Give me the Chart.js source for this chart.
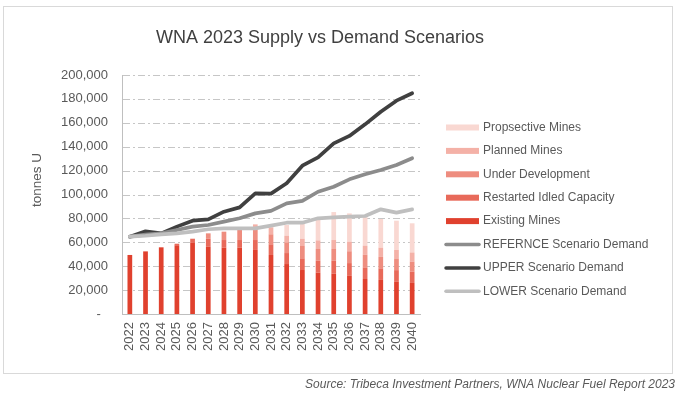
<!DOCTYPE html>
<html><head><meta charset="utf-8">
<script src="https://cdn.jsdelivr.net/npm/chart.js@4"></script>
<style>html,body{margin:0;padding:0;background:#fff}</style>
</head><body>
<canvas id="c" width="680" height="397"></canvas>
<script>
const years = ['2022','2023','2024','2025','2026','2027','2028','2029','2030','2031','2032','2033','2034','2035','2036','2037','2038','2039','2040'];
const existingMines    = [49400,52400,55800,57500,59500,56300,55500,55500,53600,49400,41800,36800,34600,33700,31900,29300,28500,26900,26000];
const restartedIdled   = [0,0,0,1300,3500,6700,6400,6400,8300,8900,9200,9800,10000,10900,10700,9700,9700,9800,9400];
const underDevelopment = [0,0,0,0,0,4500,7000,8400,8400,8400,9000,10300,9800,9800,9900,10600,9600,9300,8400];
const plannedMines     = [0,0,0,0,0,0,0,0,4700,5800,5500,6100,7200,7500,8000,7600,7700,7600,7700];
const prospectiveMines = [0,0,0,0,0,0,0,0,0,800,9000,12900,19400,23400,23700,23900,24000,24500,24400];
const referenceDemand  = [64700,66400,67500,70300,73100,74500,77300,80100,84200,86300,92600,94600,102300,106500,112700,116900,120500,124700,130300];
const upperDemand      = [64700,69200,67500,73100,78100,79200,85600,89200,101000,100700,109400,124100,131100,142800,149000,158700,169300,178500,184700];
const lowerDemand      = [64700,65500,66700,67500,68900,70900,71700,71700,71700,74000,76400,76400,80100,80900,81500,82000,87600,84800,87600];
const yTicks = [0,20000,40000,60000,80000,100000,120000,140000,160000,180000,200000];

const FONT = "'Liberation Sans', Arial, sans-serif";
const TXT = '#595959';

function barDs(label, data, color){
  return {type:'bar', label, data, backgroundColor:color, borderWidth:0, stack:'supply',
    barPercentage:0.3, categoryPercentage:1, order:2};
}
function lineDs(label, data, color, stack){
  return {type:'line', label, data, borderColor:color, backgroundColor:color, borderWidth:3.7,
    pointRadius:0, tension:0, fill:false, stack, order:1, borderJoinStyle:'round', borderCapStyle:'round'};
}

const datasets = [
  barDs('Existing Mines', existingMines, '#E0412E'),
  barDs('Restarted Idled Capacity', restartedIdled, '#E86A5A'),
  barDs('Under Development', underDevelopment, '#EE8D7F'),
  barDs('Planned Mines', plannedMines, '#F4B1A7'),
  barDs('Propsective Mines', prospectiveMines, '#F9D8D2'),
  lineDs('LOWER Scenario Demand', lowerDemand, '#BFBFBF', 'low'),
  lineDs('REFERNCE Scenario Demand', referenceDemand, '#8C8C8C', 'ref'),
  lineDs('UPPER Scenario Demand', upperDemand, '#404040', 'up'),
];
const legendOrder = [4,3,2,1,0,6,7,5];

// dash-dot gridlines at the y scale's tick pixels, painted behind everything already drawn
function drawGrid(chart){
  const ctx = chart.ctx, ys = chart.scales.y, a = chart.chartArea;
  ctx.save();
  ctx.globalCompositeOperation = 'destination-over';
  ctx.fillStyle = '#C6C6C6';
  const pattern = [[0,7],[10,2]]; const period = 15;
  yTicks.forEach(v => {
    if (v === 0) return;
    const y = Math.round(ys.getPixelForValue(v));
    for (let x = a.left + 1; x < a.right; x += period) {
      pattern.forEach(([off, len]) => {
        const x0 = x + off; const x1 = Math.min(x0 + len, a.right);
        if (x1 > x0) ctx.fillRect(x0, y, x1 - x0, 1);
      });
    }
  });
  ctx.restore();
}

const decor = {
  id:'decor',
  afterDraw(chart){
    const ctx = chart.ctx;
    drawGrid(chart);
    ctx.save();
    ctx.strokeStyle = '#D9D9D9'; ctx.lineWidth = 1;
    ctx.strokeRect(3.5, 6.5, 669, 367);
    ctx.fillStyle = '#404040';
    ctx.font = '18px ' + FONT;
    ctx.textAlign = 'center'; ctx.textBaseline = 'middle';
    ctx.fillText('WNA 2023 Supply vs Demand Scenarios', 320, 38);
    ctx.save();
    ctx.translate(37, 180); ctx.rotate(-Math.PI/2);
    ctx.fillStyle = TXT; ctx.font = '13.5px ' + FONT;
    ctx.fillText('tonnes U', 0, 0);
    ctx.restore();
    ctx.font = '12px ' + FONT; ctx.textAlign = 'left'; ctx.textBaseline = 'middle';
    legendOrder.forEach((di, k) => {
      const ds = chart.data.datasets[di];
      const y = 127.5 + k * 23.4;
      if (ds.type === 'bar') {
        ctx.fillStyle = ds.backgroundColor;
        ctx.fillRect(446, y - 3, 33, 6);
      } else {
        ctx.strokeStyle = ds.borderColor; ctx.lineWidth = 3.5; ctx.lineCap = 'round';
        ctx.beginPath(); ctx.moveTo(446, y); ctx.lineTo(479, y); ctx.stroke();
      }
      ctx.fillStyle = TXT;
      ctx.fillText(ds.label, 483, y);
    });
    ctx.font = 'italic 12px ' + FONT; ctx.textAlign = 'right';
    ctx.fillStyle = TXT;
    ctx.fillText('Source: Tribeca Investment Partners, WNA Nuclear Fuel Report 2023', 675, 385);
    ctx.restore();
  }
};

new Chart(document.getElementById('c'), {
  data: {labels: years, datasets},
  options: {
    responsive:false, devicePixelRatio:1, animation:false,
    layout:{padding:{left:20, top:75, right:260, bottom:20}},
    plugins:{legend:{display:false}, tooltip:{enabled:false}, title:{display:false}},
    scales:{
      x:{stacked:true, offset:true,
        grid:{display:false, drawTicks:false},
        border:{display:true, color:'#BFBFBF', width:1},
        ticks:{minRotation:90, maxRotation:90, padding:8, color:TXT, font:{family:FONT, size:13}, autoSkip:false},
        afterFit(s){ s.height = 63; }
      },
      y:{stacked:true, min:0, max:200000,
        afterBuildTicks(s){ s.ticks = yTicks.map(v => ({value:v})); },
        grid:{display:false, drawTicks:false},
        border:{display:true, color:'#BFBFBF', width:1},
        ticks:{padding:14, color:TXT, font:{family:FONT, size:13},
          callback:v => v === 0 ? '-  ' : v.toLocaleString('en-US')},
        afterFit(s){ s.width = 102; }
      }
    }
  },
  plugins:[decor]
});
</script>
</body></html>
